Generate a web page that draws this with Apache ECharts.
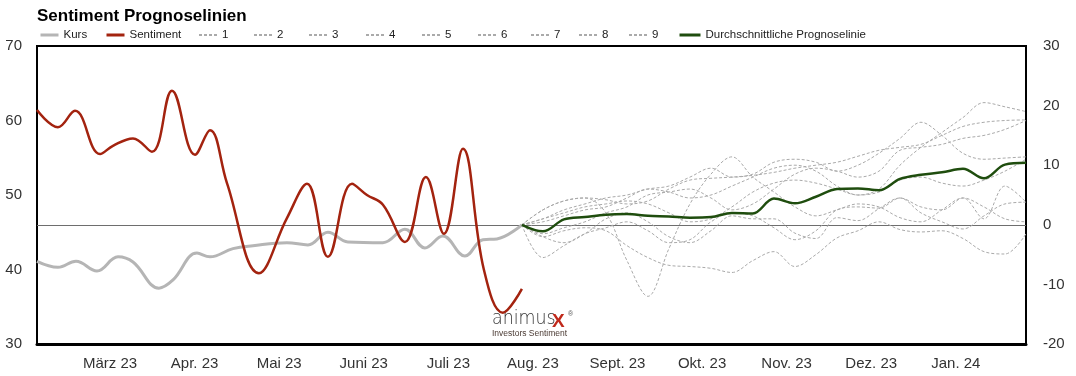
<!DOCTYPE html>
<html>
<head>
<meta charset="utf-8">
<script src="https://cdn.jsdelivr.net/npm/echarts@6/dist/echarts.min.js"></script>
<style>html,body{margin:0;padding:0;background:#fff}#c{width:1076px;height:376px}</style>
</head>
<body>
<div id="c"></div>
<script>
// x positions are in month units: 0 = "März 23", 1 = "Apr. 23", ...
const monthLabels = ['März 23','Apr. 23','Mai 23','Juni 23','Juli 23','Aug. 23','Sept. 23','Okt. 23','Nov. 23','Dez. 23','Jan. 24'];
const monthTicks = [0,1,2,3,4,5,6,7,8,9,10];
const leftTicks = [30,40,50,60,70];
const rightTicks = [-20,-10,0,10,20,30];

const kursX = [-0.863,-0.615,-0.402,-0.154,0.095,0.272,0.579,0.745,1.028,1.182,1.454,1.690,2.092,2.340,2.577,2.813,3.227,3.487,3.723,3.936,4.196,4.409,4.574,4.870];
const kursY = [41.1,40.3,41.1,39.8,41.7,41.0,37.5,38.6,42.2,41.7,42.8,43.2,43.6,43.3,45.0,43.7,43.6,45.4,42.9,44.5,41.8,44.0,44.1,46.0];

const sentX = [-0.863,-0.615,-0.414,-0.118,0.035,0.272,0.496,0.733,1.005,1.182,1.383,1.761,2.092,2.329,2.577,2.861,3.038,3.227,3.487,3.735,3.948,4.173,4.420,4.645,4.870];
const sentY = [61.4,59.1,61.3,55.5,56.6,57.6,55.8,64.0,55.4,58.7,51.6,39.5,46.9,51.5,41.7,51.5,50.0,48.7,43.7,52.4,44.8,56.2,40.0,34.2,37.4];

const fcX = [4.870,5.118,5.367,5.615,5.863,6.112,6.360,6.608,6.857,7.105,7.353,7.601,7.850,8.098,8.346,8.595,8.843,9.091,9.340,9.588,9.836,10.085,10.333,10.581,10.830];
const fc1 = [0,1.0,2.5,3.5,4.5,5.0,6.0,6.5,8.0,9.5,8.0,8.5,10.5,11.0,10.5,9.0,10.0,12.0,14.5,17.2,15.0,12.0,11.0,11.2,11.4];
const fc2 = [0,2.5,4.0,4.5,4.2,3.5,4.0,6.0,7.5,7.8,8.0,8.3,8.8,9.5,10.0,10.5,11.5,12.5,13.0,13.5,15.0,16.5,17.2,17.5,17.6];
const fc3 = [0,0.5,1.5,2.5,3.0,4.5,6.0,5.5,4.5,5.0,6.5,8.0,9.5,10.0,9.0,6.5,5.0,6.0,10.0,13.0,15.5,18.0,20.5,19.8,19.0];
const fc4 = [0,2.5,4.0,4.5,2.0,-6.0,-12.0,-4.0,3.5,8.5,11.4,8.0,5.5,3.0,1.5,2.5,3.5,3.0,1.2,0.5,2.5,4.5,3.0,1.0,0.5];
const fc5 = [0,-2.0,-1.0,-0.5,-1.0,-3.5,-5.5,-6.8,-7.0,-7.3,-8.0,-6.0,-4.5,-7.0,-5.0,-2.2,-1.0,0.5,-0.8,-1.2,-1.0,-2.3,-4.5,-4.9,-1.5];
const fc6 = [0,-5.5,-3.5,-1.5,-0.5,0.5,-1.0,-3.0,-2.5,0.5,2.0,1.5,-0.5,-2.5,-1.0,2.5,3.0,2.8,4.5,2.0,0.5,-0.7,1.5,3.5,3.8];
const fc7 = [0,-2.0,-3.0,-1.5,1.0,2.0,0.5,-2.0,-3.0,-1.0,1.5,1.0,1.0,-1.4,-2.3,1.2,0.7,2.7,4.5,3.0,2.5,4.5,1.0,6.5,3.8];
const fc8 = [0,1.0,2.0,3.0,3.5,4.0,3.5,2.0,0.5,1.0,3.0,5.5,7.0,7.5,7.0,6.0,5.0,5.5,7.5,8.0,7.0,6.5,7.5,9.0,11.0];
const fc9 = [0,-1.5,-0.5,0.5,2.0,3.0,5.0,5.5,6.0,4.5,2.5,3.5,6.0,8.5,9.5,9.0,8.0,9.0,12.5,13.0,13.5,14.5,15.0,16.0,17.5];
const avgY = [0,-1.1,0.9,1.3,1.7,1.8,1.5,1.4,1.2,1.3,2.0,1.9,4.4,3.6,4.7,6.0,6.1,5.8,7.7,8.4,8.8,9.4,7.8,10.1,10.4];

const forecasts = [fc1,fc2,fc3,fc4,fc5,fc6,fc7,fc8,fc9];
const forecastNames = ['1','2','3','4','5','6','7','8','9'];
const avgName = 'Durchschnittliche Prognoselinie';

const pairs = (xs, ys) => xs.map((x, i) => [x, ys[i]]);
const FONT = "'Liberation Sans', Arial, Helvetica, sans-serif";

const series = [];
forecasts.forEach((vals, i) => {
  series.push({
    name: forecastNames[i], type: 'line', yAxisIndex: 1, smooth: 0.35,
    symbol: 'none', z: 2, silent: true,
    lineStyle: { color: '#aaaaaa', width: 1, type: [3, 2] },
    itemStyle: { color: '#aaaaaa' },
    data: pairs(fcX, vals)
  });
});
series.unshift({
  name: 'Sentiment', type: 'line', yAxisIndex: 0, smooth: 0.4, symbol: 'none', z: 4,
  lineStyle: { color: '#a3230f', width: 2.5 }, itemStyle: { color: '#a3230f' },
  data: pairs(sentX, sentY)
});
series.unshift({
  name: 'Kurs', type: 'line', yAxisIndex: 0, smooth: 0.4, symbol: 'none', z: 3,
  lineStyle: { color: '#b5b5b5', width: 3 }, itemStyle: { color: '#b5b5b5' },
  data: pairs(kursX, kursY)
});
series.push({
  name: avgName, type: 'line', yAxisIndex: 1, smooth: 0.35, symbol: 'none', z: 5,
  lineStyle: { color: '#1f4d0e', width: 2.5 }, itemStyle: { color: '#1f4d0e' },
  data: pairs(fcX, avgY),
  markLine: {
    silent: true, symbol: 'none', label: { show: false }, z: 1,
    lineStyle: { color: '#6e6e6e', width: 1, type: 'solid' },
    data: [{ yAxis: 0 }]
  }
});

const legendLeft = [39, 105, 198, 253, 308, 365, 421, 477, 530, 578, 628, 678];
const legendNames = ['Kurs', 'Sentiment'].concat(forecastNames, [avgName]);
const solidLegend = { 'Kurs': 1, 'Sentiment': 1 };
solidLegend[avgName] = 1;
const legends = legendNames.map((n, i) => {
  const lg = {
    data: [n], left: legendLeft[i], top: 29, itemWidth: i === 11 ? 21 : 18, itemHeight: 14, itemGap: 0,
    selectedMode: false, padding: 0,
    itemStyle: { opacity: 0 },
    textStyle: { fontFamily: FONT, fontSize: 11.5, color: '#222' }
  };
  if (solidLegend[n]) lg.lineStyle = { width: 3 };
  return lg;
});

const chart = echarts.init(document.getElementById('c'), null, { renderer: 'canvas' });
chart.setOption({
  animation: false,
  backgroundColor: '#fff',
  title: {
    text: 'Sentiment Prognoselinien', left: 37, top: 8, padding: 0,
    textStyle: { fontFamily: FONT, fontSize: 17, fontWeight: 'bold', color: '#000' }
  },
  legend: legends,
  grid: { left: 37, right: 50, top: 46, bottom: 32, show: true, borderColor: '#000', borderWidth: 2, backgroundColor: 'transparent' },
  xAxis: {
    type: 'value', min: -0.863, max: 10.83,
    axisLine: { show: true, onZero: false, lineStyle: { color: '#000', width: 3 } },
    axisTick: { show: false },
    splitLine: { show: false },
    axisLabel: {
      customValues: monthTicks, margin: 12,
      fontFamily: FONT, fontSize: 15, color: '#333',
      formatter: v => monthLabels[Math.round(v)] || ''
    }
  },
  yAxis: [
    {
      type: 'value', min: 30, max: 70, interval: 10, position: 'left',
      axisLine: { show: true, onZero: false, lineStyle: { color: '#000', width: 2 } },
      axisTick: { show: false }, splitLine: { show: false },
      axisLabel: { customValues: leftTicks, margin: 15, fontFamily: FONT, fontSize: 15, color: '#333' }
    },
    {
      type: 'value', min: -20, max: 30, interval: 10, position: 'right',
      axisLine: { show: true, onZero: false, lineStyle: { color: '#000', width: 2 } },
      axisTick: { show: false }, splitLine: { show: false },
      axisLabel: { customValues: rightTicks, margin: 17, fontFamily: FONT, fontSize: 15, color: '#333' }
    }
  ],
  graphic: [
    { type: 'text', x: 492, y: 309, scaleX: 0.87, z: 10, style: { text: 'animus', fontFamily: "'DejaVu Sans', sans-serif", fontWeight: 200, fontSize: 20, fill: '#333' } },
    { type: 'text', x: 552, y: 312, z: 10, style: { text: 'X', fontFamily: FONT, fontWeight: 'bold', fontSize: 19, fill: '#c0291b' } },
    { type: 'text', x: 568, y: 311, z: 10, style: { text: '®', fontFamily: FONT, fontSize: 7, fill: '#555' } },
    { type: 'text', x: 492, y: 329, z: 10, style: { text: 'Investors Sentiment', fontFamily: FONT, fontSize: 8.5, fill: '#4a3a33' } }
  ],
  series: series
});
</script>
</body>
</html>
